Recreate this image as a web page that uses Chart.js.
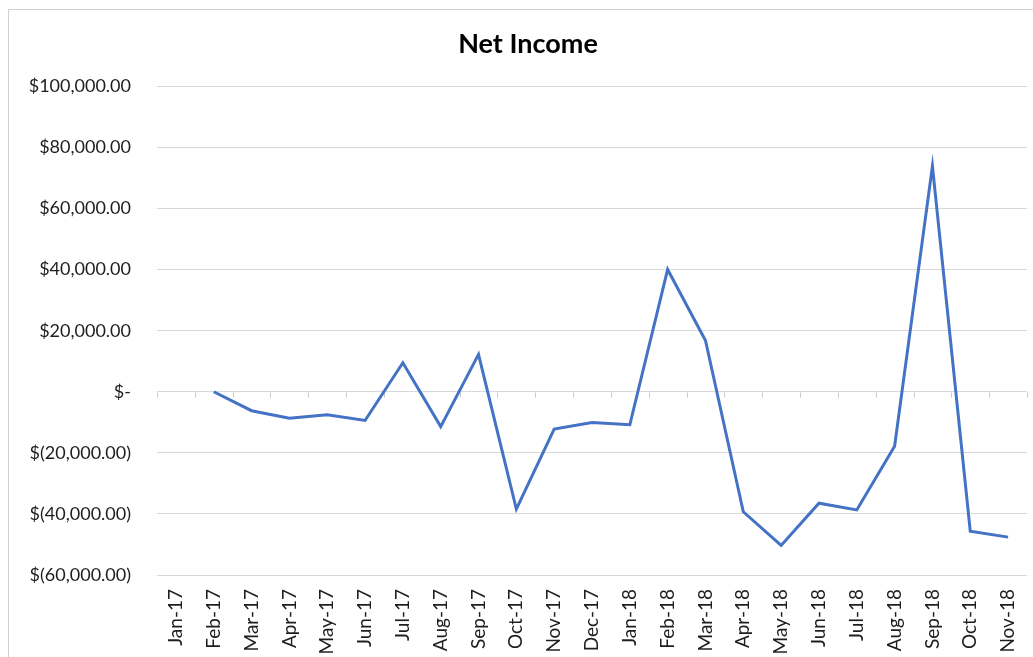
<!DOCTYPE html>
<html>
<head>
<meta charset="utf-8">
<script src="https://cdn.jsdelivr.net/npm/chart.js@4.4.1/dist/chart.umd.min.js"></script>
<style>
  html, body { margin: 0; padding: 0; background: #fff; }
  #wrap { position: relative; width: 1033px; height: 657px; overflow: hidden; }
  #frame { position: absolute; left: 8px; top: 9px; width: 1040px; height: 660px; border: 1px solid #d0d0d0; }
  #net-income { position: absolute; left: 0; top: 0; }
</style>
</head>
<body>
<div id="wrap">
  <div id="frame"></div>
  <canvas id="net-income" width="1033" height="657"></canvas>
</div>
<script>
// Net Income chart data
const months = [
    "Jan-17", "Feb-17", "Mar-17", "Apr-17", "May-17", "Jun-17", "Jul-17", "Aug-17",
    "Sep-17", "Oct-17", "Nov-17", "Dec-17", "Jan-18", "Feb-18", "Mar-18", "Apr-18",
    "May-18", "Jun-18", "Jul-18", "Aug-18", "Sep-18", "Oct-18", "Nov-18"
];
const netIncome = [
    null, 0, -6200, -8650, -7550, -9400, 9500, -11400,
    12250, -38400, -12200, -10050, -10800, 40050, 16800, -39300,
    -50300, -36500, -38700, -17850, 73900, -45650, -47600
];
const yTicks = [-60000, -40000, -20000, 0, 20000, 40000, 60000, 80000, 100000];

const gridColor = "#d9d9d9";
const textColor = "#1e1e1e";
const fontFamily = "Lato, 'Open Sans', sans-serif";

// Accounting style labels like Excel: $100,000.00 / $- / $(20,000.00)
function formatMoney(v) {
    if (v === 0) return "$-";
    const s = Math.abs(v).toLocaleString("en-US", { minimumFractionDigits: 2, maximumFractionDigits: 2 });
    return v < 0 ? "$(" + s + ")" : "$" + s;
}

// small tick marks along the zero line (horizontal axis crosses at 0)
const zeroTicks = {
    id: "zeroTicks",
    beforeDatasetsDraw(chart) {
        const ctx = chart.ctx;
        const x = chart.scales.x;
        const y0 = Math.round(chart.scales.y.getPixelForValue(0)) + 0.5;
        ctx.save();
        ctx.strokeStyle = "#c8c8c8";
        ctx.lineWidth = 1;
        ctx.beginPath();
        const step = x.getPixelForValue(1) - x.getPixelForValue(0);
        for (let i = 0; i <= months.length; i++) {
            const px = Math.round(x.getPixelForValue(0) - step / 2 + i * step) + 0.5;
            ctx.moveTo(px, y0);
            ctx.lineTo(px, y0 + 5);
        }
        ctx.stroke();
        ctx.restore();
    }
};

const ctx = document.getElementById("net-income").getContext("2d");
new Chart(ctx, {
    type: "line",
    data: {
        labels: months,
        datasets: [{
            label: "Net Income",
            data: netIncome,
            borderColor: "#4472c4",
            borderWidth: 3,
            pointRadius: 0,
            tension: 0,
            fill: false
        }]
    },
    options: {
        responsive: false,
        animation: false,
        layout: { padding: { left: 29, right: 6, top: 14, bottom: 0 } },
        plugins: {
            legend: { display: false },
            tooltip: { enabled: false },
            title: {
                display: true,
                text: "Net Income",
                color: "#000",
                font: { family: fontFamily, size: 27, weight: "bold" },
                padding: { top: 14, bottom: 26 }
            }
        },
        scales: {
            x: {
                offset: true,
                grid: { display: false },
                border: { display: false },
                ticks: {
                    color: textColor,
                    font: { family: fontFamily, size: 19 },
                    minRotation: 90,
                    maxRotation: 90,
                    autoSkip: false,
                    padding: 6
                },
                afterFit(scale) {
                    scale.height = 82;
                    scale.paddingLeft = 0;
                    scale.paddingRight = 0;
                }
            },
            y: {
                min: -60000,
                max: 100000,
                afterBuildTicks(scale) { scale.ticks = yTicks.map(v => ({ value: v })); },
                grid: { color: gridColor, lineWidth: 1, drawTicks: false },
                border: { display: false },
                ticks: {
                    color: textColor,
                    font: { family: fontFamily, size: 18 },
                    padding: 26,
                    callback: v => formatMoney(v)
                },
                afterFit(scale) { scale.width = 128; }
            }
        }
    },
    plugins: [zeroTicks]
});
</script>
</body>
</html>
